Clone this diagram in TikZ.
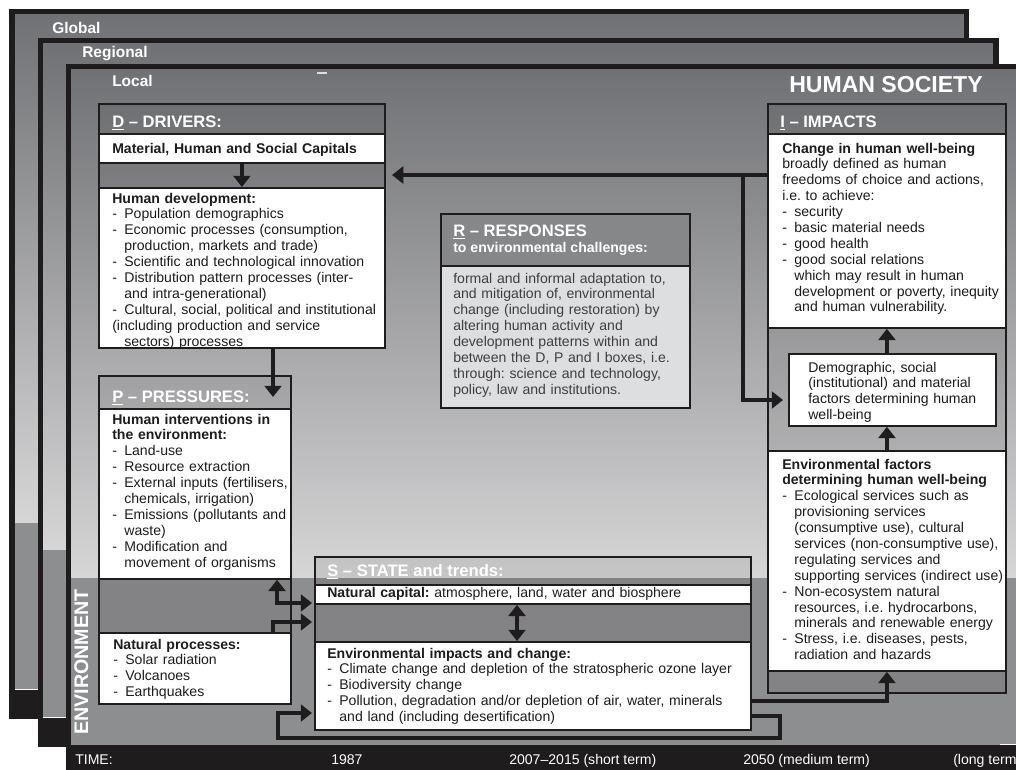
\documentclass[tikz,border=0pt]{standalone}
\usepackage{fontspec}
\setmainfont{Liberation Sans}
\usetikzlibrary{arrows.meta, positioning, calc}
\definecolor{cardtop}{RGB}{112,113,116}
\definecolor{cardbot}{RGB}{214,214,215}
\definecolor{envgray}{RGB}{141,142,144}
\definecolor{capgray}{RGB}{134,135,137}
\definecolor{respbg}{RGB}{221,222,224}
\definecolor{rim}{RGB}{30,28,29}
\frenchspacing
\newcommand{\pxu}{0.025cm}
\newcommand{\lidash}{\makebox[8.6pt][l]{-}}
\newcommand{\liind}{\hspace*{8.6pt}}
\tikzset{
  cardrim/.style = {draw=rim, line width=4pt},
  boxframe/.style = {
    rectangle, draw=rim, line width=1.6pt,
    fill=black, fill opacity=0.07, anchor=north west, inner sep=0pt
  },
  whitebox/.style = {
    rectangle, draw=rim, line width=1.3pt,
    fill=#1, anchor=north west, inner sep=0pt
  },
  whitebox/.default = white,
  captxt/.style = {
    anchor=base west, inner sep=0pt, text=white,
    font=\fontsize{11.8}{13}\selectfont\bfseries
  },
  bodytxt/.style = {
    anchor=base west, inner sep=0pt, align=left, text width=#1,
    text=rim, font=\fontsize{10}{11.3}\selectfont
  },
  bodytxt/.default = 8cm,
  cardlbl/.style = {
    anchor=base west, inner sep=0pt, text=white,
    font=\fontsize{11}{13}\selectfont\bfseries
  },
  timetxt/.style = {
    anchor=base west, inner sep=0pt, text=white,
    font=\fontsize{10}{12}\selectfont
  },
  arr/.style = {-{Triangle[length=8pt, width=12pt]}, draw=rim, line width=2.6pt},
  arrboth/.style = {{Triangle[length=8pt, width=12pt]}-{Triangle[length=8pt, width=12pt]},
    draw=rim, line width=2.6pt},
}

\begin{document}
\begin{tikzpicture}[x=0.025cm, y=-0.025cm]
  \useasboundingbox (0,0) rectangle (1016,769);

  \shade[top color=cardtop, bottom color=cardbot] (12,11.5) rectangle (966.5,523);
  \fill[envgray] (12,523) rectangle (966.5,690);
  \fill[rim] (12,690) rectangle (966.5,717);
  \draw[white, line width=0.8pt] (12,689.5) -- (966.5,689.5);
  \draw[cardrim] (12,11.5) rectangle (966.5,716);

  \shade[top color=cardtop, bottom color=cardbot] (40.5,40.5) rectangle (996,550);
  \fill[envgray] (40.5,550) rectangle (996,718);
  \fill[rim] (40.5,718) rectangle (996,745);
  \draw[white, line width=0.8pt] (40.5,717.5) -- (996,717.5);
  \draw[cardrim] (40.5,40.5) rectangle (996,744);

  \shade[top color=cardtop, bottom color=cardbot] (68.5,66.5) rectangle (1030,578);
  \fill[envgray] (68.5,578) rectangle (1030,745);
  \fill[rim] (68.5,745) rectangle (1030,800);
  \draw[white, line width=0.8pt] (1000,744.5) -- (1030,744.5);
  \draw[cardrim] (68.5,66.5) rectangle (1030,800);
  \draw[white!75!gray, line width=1pt] (317,73) -- (327,73);

  \node[cardlbl] (lblglobal) at (52,33) {Global};
  \node[cardlbl] (lblregional) at (82,57) {Regional};
  \node[cardlbl] (lbllocal) at (112,86) {Local};
  \node[anchor=base east, inner sep=0pt, text=white,
        font=\fontsize{16.4}{18}\selectfont\bfseries] (society) at (983,92) {HUMAN SOCIETY};
  \node[rotate=90, anchor=base west, inner sep=0pt, text=white,
        font=\fontsize{14}{16}\selectfont\bfseries] (environ) at (88,735) {ENVIRONMENT};

  \node[timetxt] (time) at (75,764) {TIME:};
  \node[timetxt] (t1987) at (331,764) {1987};
  \node[timetxt] (tshort) at (509,764) {2007–2015 (short term)};
  \node[timetxt] (tmedium) at (743,764) {2050 (medium term)};
  \node[timetxt] (tlong) at (953,764) {(long term};

  % drivers
  \node[boxframe, minimum width=286*\pxu, minimum height=244*\pxu] (drv) at (98,103) {};
  \node[whitebox, minimum width=286*\pxu, minimum height=29*\pxu] (drvcap) at (98,133) {};
  \node[whitebox, minimum width=286*\pxu, minimum height=160*\pxu] (drvbody) at (98,187) {};
  \node[captxt] (drvhead) at (112,127) {\underline{D} – DRIVERS:};
  \node[bodytxt] (drvcaptxt) at (112,153) {\textbf{Material, Human and Social Capitals}};
  \node[bodytxt] (drvtxt) at (112,203) {\textbf{Human development:}\\
    \lidash Population demographics\\
    \lidash Economic processes (consumption,\\
    \liind production, markets and trade)\\
    \lidash Scientific and technological innovation\\
    \lidash Distribution pattern processes (inter-\\
    \liind and intra-generational)\\
    \lidash Cultural, social, political and institutional\\
    (including production and service\\
    \liind sectors) processes};

  % pressures
  \node[boxframe, minimum width=192*\pxu, minimum height=328*\pxu] (prs) at (98,375) {};
  \node[whitebox, minimum width=192*\pxu, minimum height=170*\pxu] (prsbody) at (98,408) {};
  \node[whitebox, minimum width=192*\pxu, minimum height=71*\pxu] (nat) at (98,632) {};
  \node[captxt] (prshead) at (112,402) {\underline{P} – PRESSURES:};
  \node[bodytxt] (prstxt) at (112,424) {\textbf{Human interventions in}\\
    \textbf{the environment:}\\
    \lidash Land-use\\
    \lidash Resource extraction\\
    \lidash External inputs (fertilisers,\\
    \liind chemicals, irrigation)\\
    \lidash Emissions (pollutants and\\
    \liind waste)\\
    \lidash Modification and\\
    \liind movement of organisms};
  \node[bodytxt] (nattxt) at (113,649) {\textbf{Natural processes:}\\
    \lidash Solar radiation\\
    \lidash Volcanoes\\
    \lidash Earthquakes};

  % responses
  \node[whitebox=respbg, minimum width=249*\pxu, minimum height=194*\pxu] (rsp) at (440,213) {};
  \node[whitebox=capgray, minimum width=249*\pxu, minimum height=52*\pxu] (rsphead) at (440,213) {};
  \node[captxt] (rsptitle) at (453,236) {\underline{R} – RESPONSES};
  \node[captxt, font=\fontsize{10}{12}\selectfont\bfseries] (rspsub) at (453,252)
    {to environmental challenges:};
  \node[bodytxt, text=rim!85] (rsptxt) at (453,283) {formal and informal adaptation to,\\
    and mitigation of, environmental\\
    change (including restoration) by\\
    altering human activity and\\
    development patterns within and\\
    between the D, P and I boxes, i.e.\\
    through: science and technology,\\
    policy, law and institutions.};

  % impacts
  \node[boxframe, minimum width=238*\pxu, minimum height=589*\pxu] (imp) at (767,103) {};
  \node[whitebox, minimum width=238*\pxu, minimum height=194*\pxu] (impbody) at (767,133) {};
  \node[whitebox, minimum width=207*\pxu, minimum height=72*\pxu] (demo) at (788,353) {};
  \node[whitebox, minimum width=238*\pxu, minimum height=220*\pxu] (envf) at (767,450) {};
  \node[captxt] (imphead) at (780,127) {\underline{I} – IMPACTS};
  \node[bodytxt] (imptxt) at (782,153) {\textbf{Change in human well-being}\\
    broadly defined as human\\
    freedoms of choice and actions,\\
    i.e. to achieve:\\
    \lidash security\\
    \lidash basic material needs\\
    \lidash good health\\
    \lidash good social relations\\
    \liind which may result in human\\
    \liind development or poverty, inequity\\
    \liind and human vulnerability.};
  \node[bodytxt] (demotxt) at (808,372) {Demographic, social\\
    (institutional) and material\\
    factors determining human\\
    well-being};
  \node[bodytxt] (envftxt) at (782,469) {\textbf{Environmental factors}\\
    \textbf{determining human well-being}\\
    \lidash Ecological services such as\\
    \liind provisioning services\\
    \liind (consumptive use), cultural\\
    \liind services (non-consumptive use),\\
    \liind regulating services and\\
    \liind supporting services (indirect use)\\
    \lidash Non-ecosystem natural\\
    \liind resources, i.e. hydrocarbons,\\
    \liind minerals and renewable energy\\
    \lidash Stress, i.e. diseases, pests,\\
    \liind radiation and hazards};

  % state
  \node[boxframe, minimum width=436*\pxu, minimum height=173*\pxu] (stt) at (314,556) {};
  \node[whitebox, minimum width=436*\pxu, minimum height=19*\pxu] (natcap) at (314,584) {};
  \node[whitebox, minimum width=436*\pxu, minimum height=88*\pxu] (envimp) at (314,641) {};
  \node[captxt] (stthead) at (327,576) {\underline{S} – STATE and trends:};
  \node[bodytxt=10.5cm] (natcaptxt) at (327,597)
    {\textbf{Natural capital:} atmosphere, land, water and biosphere};
  \node[bodytxt=10.5cm] (envimptxt) at (327,658) {\textbf{Environmental impacts and change:}\\
    \lidash Climate change and depletion of the stratospheric ozone layer\\
    \lidash Biodiversity change\\
    \lidash Pollution, degradation and/or depletion of air, water, minerals\\
    \liind and land (including desertification)};

  % connectors
  \coordinate (dp) at (273,397);
  \coordinate (fb) at (743,175);
  \coordinate (fbtip) at (392,175);
  \coordinate (fbdemo) at (783,400);
  \coordinate (ps) at (277,603);
  \coordinate (ns) at (273,622);
  \coordinate (ss) at (517,0);
  \coordinate (si) at (0,701);
  \coordinate (lpa) at (780,716);
  \coordinate (lpb) at (278,738);
  \coordinate (lptip) at (312,713);

  \draw[arr] (drvcap.south) -- (drvbody.north);
  \draw[arr] (dp |- drvbody.south) -- (dp);
  \draw[arr] (imp.west |- fb) -- (fbtip);
  \draw[arr] (fb) |- (fbdemo);
  \draw[arr] (demo.north -| impbody.south) -- (impbody.south);
  \draw[arr] (envf.north) -- (envf.north |- demo.south);
  \draw[arrboth] (prsbody.south -| ps) |- (ps -| lptip);
  \draw[arr] (nat.north -| ns) |- (ns -| lptip);
  \draw[arrboth] (natcap.south -| ss) -- (envimp.north -| ss);
  \draw[arr] (stt.east |- si) -| (envf.south);
  \draw[arr] (stt.east |- lpa) -- (lpa) |- (lpb) |- (lptip);

\end{tikzpicture}
\end{document}
